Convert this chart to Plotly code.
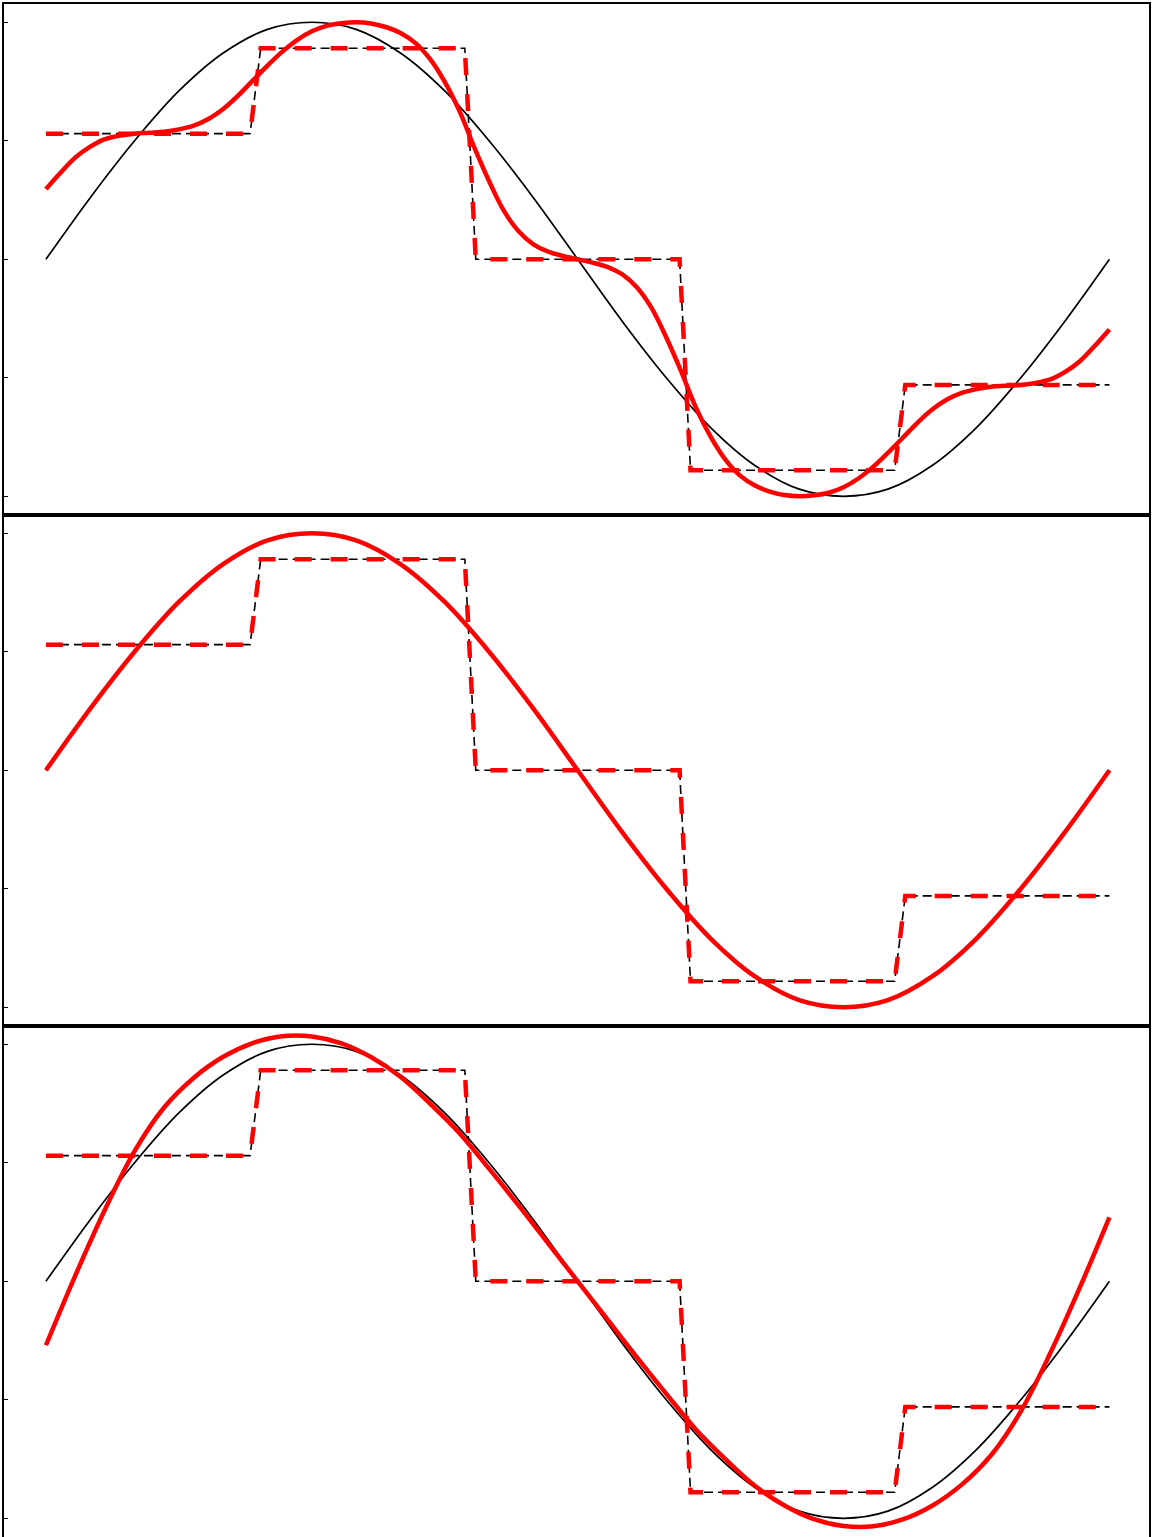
import plotly.graph_objects as go
from plotly.subplots import make_subplots

# Phase (degrees) and values
sine_x = [0, 15, 30, 45, 60, 75, 90, 105, 120, 135, 150, 165, 180,
          195, 210, 225, 240, 255, 270, 285, 300, 315, 330, 345, 360]
sine_y = [0.0, 0.26, 0.5, 0.71, 0.87, 0.97, 1.0, 0.97, 0.87, 0.71, 0.5, 0.26, 0.0,
          -0.26, -0.5, -0.71, -0.87, -0.97, -1.0, -0.97, -0.87, -0.71, -0.5, -0.26, 0.0]

step_x = [0, 69.1, 72.7, 141.8, 145.5, 214.5, 218.2, 287.3, 290.9, 360]
step_y = [0.53, 0.53, 0.89, 0.89, 0.0, 0.0, -0.89, -0.89, -0.53, -0.53]

# Panel 1: wavy reconstruction (5-degree grid)
rec1_x = [0, 5, 10, 15, 20, 25, 30, 35, 40, 45, 50, 55, 60, 65, 70, 75, 80, 85, 90,
          95, 100, 105, 110, 115, 120, 125, 130, 135, 140, 145, 150, 155, 160, 165,
          170, 175, 180, 185, 190, 195, 200, 205, 210, 215, 220, 225, 230, 235, 240,
          245, 250, 255, 260, 265, 270, 275, 280, 285, 290, 295, 300, 305, 310, 315,
          320, 325, 330, 335, 340, 345, 350, 355, 360]
rec1_y = [0.296, 0.366, 0.430, 0.475, 0.507, 0.522, 0.530, 0.534, 0.538, 0.548,
          0.564, 0.592, 0.634, 0.690, 0.754, 0.817, 0.876, 0.925, 0.962, 0.985,
          0.996, 1.000, 0.995, 0.980, 0.955, 0.913, 0.845, 0.748, 0.625, 0.472,
          0.330, 0.205, 0.118, 0.063, 0.032, 0.014, 0.0,
          -0.014, -0.032, -0.063, -0.118, -0.205, -0.330, -0.472, -0.625, -0.748,
          -0.845, -0.913, -0.955, -0.980, -0.995, -1.000, -0.996, -0.985, -0.962,
          -0.925, -0.876, -0.817, -0.754, -0.690, -0.634, -0.592, -0.564, -0.548,
          -0.538, -0.534, -0.530, -0.522, -0.507, -0.475, -0.430, -0.366, -0.296]

# Panel 2: smooth reconstruction
rec2_x = sine_x
rec2_y = sine_y

# Panel 3: polynomial-like reconstruction (10-degree grid)
rec3_x = [0, 10, 20, 30, 40, 50, 60, 70, 80, 90, 100, 110, 120, 130, 140, 150,
          160, 170, 180, 190, 200, 210, 220, 230, 240, 250, 260, 270, 280, 290,
          300, 310, 320, 330, 340, 350, 360]
rec3_y = [-0.27, 0.026, 0.303, 0.549, 0.733, 0.858, 0.947, 1.005, 1.034, 1.033,
          1.004, 0.946, 0.863, 0.75, 0.625, 0.475, 0.32, 0.16, 0.0,
          -0.16, -0.32, -0.475, -0.625, -0.75, -0.863, -0.946, -1.004, -1.033,
          -1.034, -1.005, -0.947, -0.858, -0.733, -0.549, -0.303, -0.026, 0.27]

recs = [(rec1_x, rec1_y), (rec2_x, rec2_y), (rec3_x, rec3_y)]
y_ticks = [-1, -0.5, 0, 0.5, 1]

fig = make_subplots(rows=3, cols=1, vertical_spacing=0)

for i, (rx, ry) in enumerate(recs, start=1):
    fig.add_trace(go.Scatter(x=sine_x, y=sine_y, mode="lines",
                             line=dict(color="black", width=1.7, shape="spline"),
                             showlegend=False), row=i, col=1)
    fig.add_trace(go.Scatter(x=step_x, y=step_y, mode="lines",
                             line=dict(color="black", width=1.6, dash="9px,5px"),
                             showlegend=False), row=i, col=1)
    fig.add_trace(go.Scatter(x=step_x, y=step_y, mode="lines",
                             line=dict(color="red", width=4.5, dash="17px,19px"),
                             showlegend=False), row=i, col=1)
    fig.add_trace(go.Scatter(x=rx, y=ry, mode="lines",
                             line=dict(color="red", width=4.5, shape="spline"),
                             showlegend=False), row=i, col=1)
    fig.update_xaxes(range=[-14.2, 373.4], showgrid=False, zeroline=False,
                     showticklabels=False, ticks="", showline=True, mirror=True,
                     linecolor="black", linewidth=2, row=i, col=1)
    fig.update_yaxes(range=[-1.079, 1.077], showgrid=False, zeroline=False,
                     showticklabels=False, tickvals=y_ticks, ticks="inside",
                     ticklen=4, tickwidth=1.3, tickcolor="black",
                     showline=True, mirror=True, linecolor="black", linewidth=2,
                     row=i, col=1)

fig.update_layout(width=1152, height=1537,
                  margin=dict(l=4, r=2.5, t=4, b=0),
                  plot_bgcolor="white", paper_bgcolor="white",
                  showlegend=False)

fig.write_html("out.html", config={"displayModeBar": False},
               post_script="document.body.style.margin='0';document.body.style.overflow='hidden';")
